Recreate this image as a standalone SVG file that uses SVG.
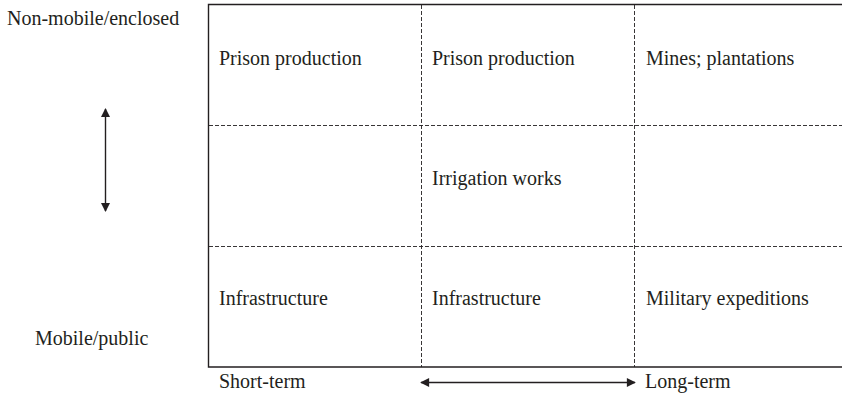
<svg xmlns="http://www.w3.org/2000/svg" width="842" height="396" viewBox="0 0 842 396">
<style>
text{font-family:"Liberation Serif","Times New Roman",serif;font-size:20px;fill:#231f20}
.frame{fill:none;stroke:#231f20;stroke-width:1.4}
.dash{fill:none;stroke:#231f20;stroke-width:0.9;stroke-dasharray:4,2}
.arr{fill:none;stroke:#231f20;stroke-width:1.4}
</style>
<defs>
<marker id="ah" viewBox="0 0 10 10" refX="9" refY="5" markerWidth="10" markerHeight="9" markerUnits="userSpaceOnUse" orient="auto-start-reverse">
<path d="M0,0 L10,5 L0,10 Z" fill="#231f20"/>
</marker>
</defs>
<g id="grid">
<path class="frame" d="M842,4.5 H208.5 V367 H842"/>
<line class="dash" x1="421.5" y1="5" x2="421.5" y2="367"/>
<line class="dash" x1="634.5" y1="5" x2="634.5" y2="367"/>
<line class="dash" x1="209" y1="125.5" x2="842" y2="125.5"/>
<line class="dash" x1="209" y1="246.5" x2="842" y2="246.5"/>
</g>
<g id="labels-axes">
<text x="7" y="25">Non-mobile/enclosed</text>
<text x="35" y="345">Mobile/public</text>
<text x="219" y="388">Short-term</text>
<text x="645" y="388">Long-term</text>
</g>
<g id="cell-r1c1"><text x="219" y="65">Prison production</text></g>
<g id="cell-r1c2"><text x="432" y="65">Prison production</text></g>
<g id="cell-r1c3"><text x="646" y="65">Mines; plantations</text></g>
<g id="cell-r2c2"><text x="432" y="185">Irrigation works</text></g>
<g id="cell-r3c1"><text x="219" y="305">Infrastructure</text></g>
<g id="cell-r3c2"><text x="432" y="305">Infrastructure</text></g>
<g id="cell-r3c3"><text x="646" y="305">Military expeditions</text></g>
<g id="connectors">
<line class="arr" x1="105.5" y1="109" x2="105.5" y2="211" marker-start="url(#ah)" marker-end="url(#ah)"/>
<line class="arr" x1="421" y1="382.5" x2="635" y2="382.5" marker-start="url(#ah)" marker-end="url(#ah)"/>
</g>
</svg>
